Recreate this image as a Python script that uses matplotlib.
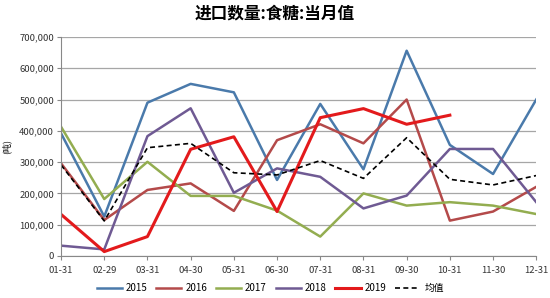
import numpy as np
import matplotlib
matplotlib.use('Agg')
import matplotlib.pyplot as plt
from matplotlib.ticker import FuncFormatter

plt.rcParams['font.family'] = ['Noto Sans CJK SC', 'DejaVu Sans']

months = ['01-31', '02-29', '03-31', '04-30', '05-31', '06-30',
          '07-31', '08-31', '09-30', '10-31', '11-30', '12-31']

# monthly sugar imports (tonnes)
y2015 = [392000, 126000, 490000, 550000, 523000, 243000, 486000, 277000, 656000, 355000, 262000, 500000]
y2016 = [296000, 115000, 211000, 232000, 144000, 370000, 421000, 360000, 500000, 113000, 142000, 221000]
y2017 = [413000, 182000, 301000, 192000, 192000, 145000, 62000, 200000, 161000, 172000, 161000, 134000]
y2018 = [33000, 21000, 383000, 472000, 202000, 280000, 253000, 152000, 193000, 342000, 342000, 172000]
y2019 = [133000, 14000, 62000, 341000, 381000, 142000, 442000, 471000, 421000, 450000]
mean = [291000, 112000, 346000, 360000, 266000, 259000, 305000, 248000, 378000, 245000, 227000, 257000]

fig = plt.figure(figsize=(5.5, 2.98), dpi=100)
ax = fig.add_axes([0.111, 0.141, 0.864, 0.735])

x = np.arange(len(months))
ax.plot(x, y2015, color='#4a7aab', lw=1.8, label='2015')
ax.plot(x, y2016, color='#b44a4a', lw=1.8, label='2016')
ax.plot(x, y2017, color='#93ad50', lw=1.8, label='2017')
ax.plot(x, y2018, color='#6f5a93', lw=1.8, label='2018')
ax.plot(x[:len(y2019)], y2019, color='#e31a1c', lw=2.2, label='2019')
ax.plot(x, mean, color='black', lw=1.2, ls=(0, (3, 2)), label='均值')

ax.set_xlim(0, 11)
ax.set_ylim(0, 700000)
ax.set_yticks(range(0, 700001, 100000))
ax.yaxis.set_major_formatter(FuncFormatter(lambda v, p: '{:,.0f}'.format(v)))
ax.set_xticks(x)
ax.set_xticklabels(months)
ax.tick_params(axis='both', labelsize=6.8, colors='#333333')
ax.tick_params(axis='x', direction='out', length=3, color='#888888', pad=4)
ax.tick_params(axis='y', direction='out', length=3, color='#888888', pad=2)
ax.grid(axis='y', color='#a6a6a6', lw=0.9)
ax.set_axisbelow(True)
for s in ['top', 'right']:
    ax.spines[s].set_visible(False)
ax.spines['left'].set_color('#888888')
ax.spines['bottom'].set_color('#888888')

ax.set_ylabel('(吨)', fontsize=6.5, labelpad=6)
fig.suptitle('进口数量:食糖:当月值', fontsize=12, fontweight='bold', y=0.985)

ax.legend(loc='upper center', bbox_to_anchor=(0.44, -0.085), ncol=6, frameon=False,
          fontsize=7, handlelength=2.6, columnspacing=0.9, handletextpad=0.4)

fig.savefig('out.png', dpi=100)
